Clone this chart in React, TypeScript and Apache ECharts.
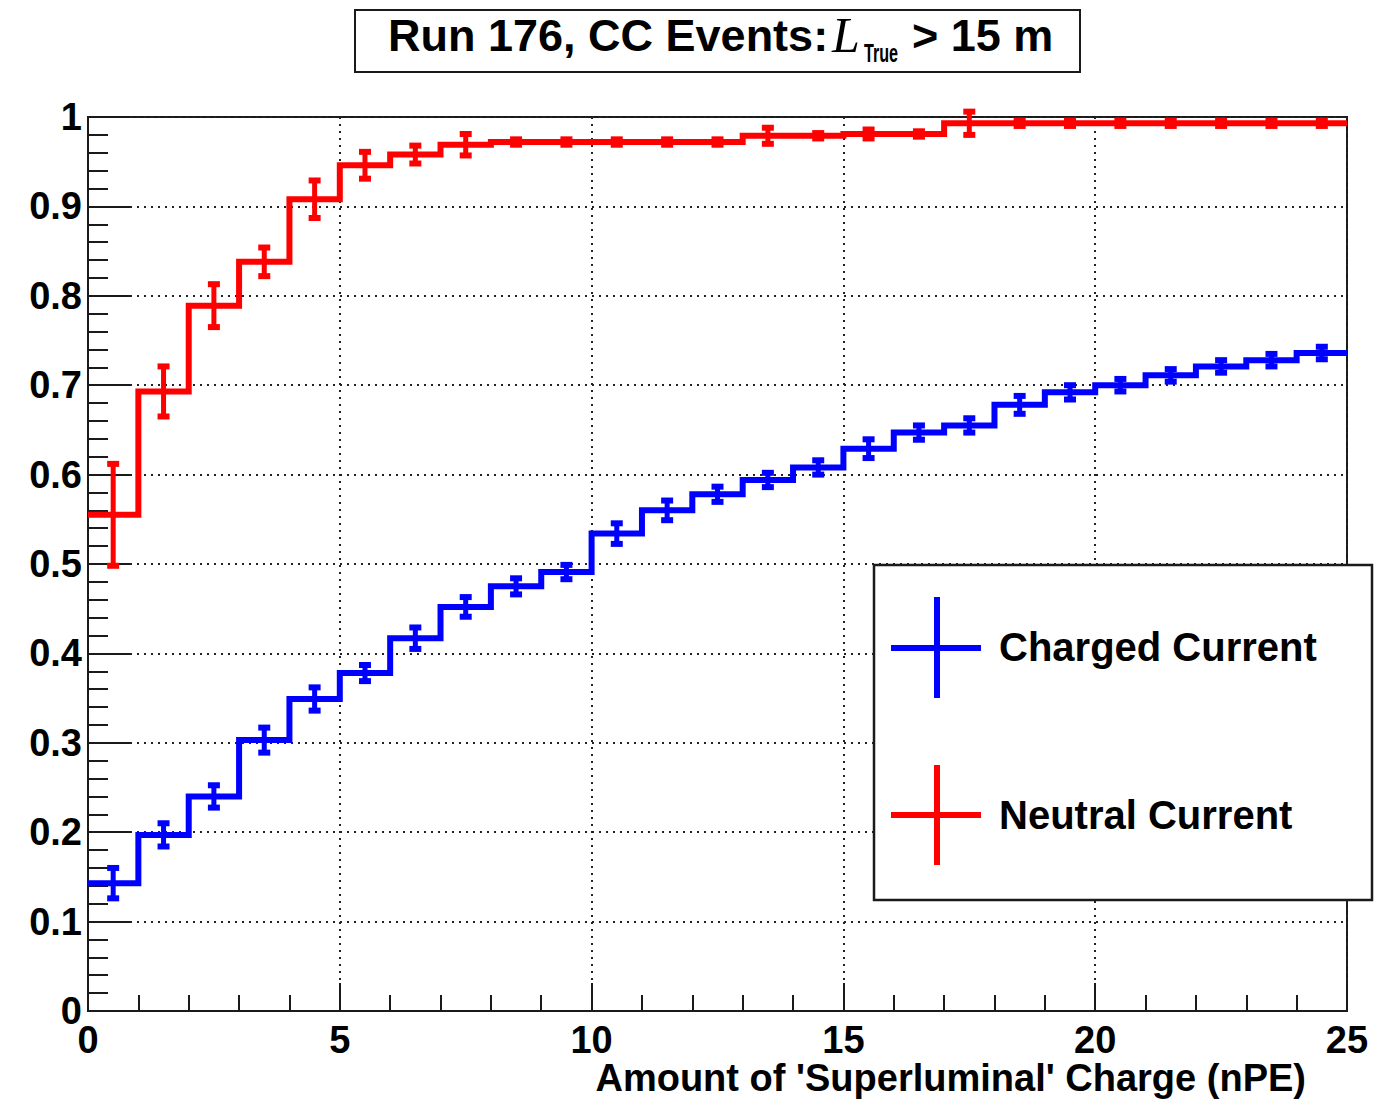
import React, { useEffect, useRef } from "react";
import * as echarts from "echarts";

// Histogram bins: left edges (bin width 1 nPE), 0..24
const binLeftEdges = [0, 1, 2, 3, 4, 5, 6, 7, 8, 9, 10, 11, 12, 13, 14, 15, 16, 17, 18, 19, 20, 21, 22, 23, 24];
const binWidth = 1;

// Charged Current (blue)
const ccValues = [0.143, 0.197, 0.240, 0.303, 0.349, 0.378, 0.417, 0.452, 0.475, 0.491, 0.534, 0.560, 0.578, 0.594, 0.608, 0.629, 0.647, 0.655, 0.678, 0.692, 0.700, 0.711, 0.721, 0.728, 0.736];
const ccErrors = [0.017, 0.013, 0.0125, 0.014, 0.013, 0.009, 0.012, 0.011, 0.009, 0.008, 0.0115, 0.011, 0.0085, 0.008, 0.008, 0.0105, 0.008, 0.008, 0.010, 0.008, 0.007, 0.007, 0.007, 0.007, 0.007];

// Neutral Current (red)
const ncValues = [0.555, 0.693, 0.789, 0.838, 0.908, 0.946, 0.958, 0.969, 0.972, 0.972, 0.972, 0.972, 0.972, 0.979, 0.979, 0.981, 0.981, 0.993, 0.993, 0.993, 0.993, 0.993, 0.993, 0.993, 0.993];
const ncErrors = [0.057, 0.028, 0.024, 0.016, 0.021, 0.015, 0.010, 0.012, 0.003, 0.003, 0.003, 0.003, 0.003, 0.009, 0.003, 0.005, 0.003, 0.013, 0.003, 0.003, 0.003, 0.003, 0.003, 0.003, 0.003];

const xTicks = { min: 0, max: 25, interval: 5 };
const yTicks = { min: 0, max: 1, interval: 0.1 };

const titleParts = { main: "Run 176, CC Events:", sym: "L", sub: "True", tail: "> 15 m" };
const xTitle = "Amount of 'Superluminal' Charge (nPE)";
const legendLabels = ["Charged Current", "Neutral Current"];

const FONT = "'Liberation Sans', Arial, Helvetica, sans-serif";
const BLUE = "#0000ff";
const RED = "#ff0000";
const INK = "#1a1a1a";

function stepData(values: number[]) {
  const pts: number[][] = binLeftEdges.map((e, i) => [e, values[i]]);
  const last = binLeftEdges[binLeftEdges.length - 1] + binWidth;
  pts.push([last, values[values.length - 1]]);
  return pts;
}

function errData(values: number[], errs: number[]) {
  return binLeftEdges.map((e, i) => [e + binWidth / 2, values[i], errs[i]]);
}

function errRender(color: string) {
  return (params: any, api: any) => {
    const x = api.value(0);
    const y = api.value(1);
    const e = api.value(2);
    const top = api.coord([x, y + e]);
    const bot = api.coord([x, y - e]);
    const cw = 6;
    const st = { stroke: color, lineWidth: 5 };
    const capSt = { stroke: color, lineWidth: 6 };
    return {
      type: "group",
      children: [
        { type: "line", shape: { x1: top[0], y1: top[1], x2: bot[0], y2: bot[1] }, style: st },
        { type: "line", shape: { x1: top[0] - cw, y1: top[1], x2: top[0] + cw, y2: top[1] }, style: capSt },
        { type: "line", shape: { x1: bot[0] - cw, y1: bot[1], x2: bot[0] + cw, y2: bot[1] }, style: capSt },
      ],
    };
  };
}

export default function App() {
  const ref = useRef<HTMLDivElement>(null);
  useEffect(() => {
    if (!ref.current) return;
    const chart = echarts.init(ref.current, undefined, { renderer: "svg" });
    const axisLabel = { fontSize: 38, fontWeight: "bold", fontFamily: FONT, color: "#000" };
    const splitLine = { show: true, lineStyle: { type: [2, 5], color: "#222", width: 2 } };
    chart.setOption({
      animation: false,
      backgroundColor: "#fff",
      grid: {
        left: 88, right: 42, top: 117, bottom: 89,
        show: true, borderColor: INK, borderWidth: 2, backgroundColor: "#fff",
        containLabel: false, outerBoundsMode: "none",
      },
      xAxis: {
        type: "value", min: xTicks.min, max: xTicks.max, interval: xTicks.interval,
        axisLine: { show: true, onZero: false, lineStyle: { color: INK, width: 2 } },
        axisTick: { show: true, inside: true, length: 28, lineStyle: { color: INK, width: 2 } },
        minorTick: { show: true, splitNumber: 5, length: 16, lineStyle: { color: INK, width: 2 } },
        axisLabel: { ...axisLabel, margin: 10 },
        splitLine,
      },
      yAxis: {
        type: "value", min: yTicks.min, max: yTicks.max, interval: yTicks.interval,
        axisLine: { show: true, onZero: false, lineStyle: { color: INK, width: 2 } },
        axisTick: { show: true, inside: true, length: 42, lineStyle: { color: INK, width: 2 } },
        minorTick: { show: true, splitNumber: 5, length: 20, lineStyle: { color: INK, width: 2 } },
        axisLabel: { ...axisLabel, margin: 6 },
        splitLine,
      },
      series: [
        {
          type: "line", name: legendLabels[0], data: stepData(ccValues), step: "end",
          symbol: "none", lineStyle: { color: BLUE, width: 6, join: "miter" }, z: 3,
        },
        {
          type: "line", name: legendLabels[1], data: stepData(ncValues), step: "end",
          symbol: "none", lineStyle: { color: RED, width: 6, join: "miter" }, z: 3,
        },
        {
          type: "custom", data: errData(ccValues, ccErrors), renderItem: errRender(BLUE),
          encode: { x: 0, y: 1 }, z: 4, clip: false,
        },
        {
          type: "custom", data: errData(ncValues, ncErrors), renderItem: errRender(RED),
          encode: { x: 0, y: 1 }, z: 4, clip: false,
        },
      ],
      graphic: [
        {
          type: "rect", z: 100, shape: { x: 355, y: 10, width: 725, height: 62 },
          style: { fill: "#fff", stroke: INK, lineWidth: 2 },
        },
        {
          type: "text", z: 101, x: 388, y: 35,
          style: { text: titleParts.main, fontSize: 45, fontWeight: "bold", fontFamily: FONT, fill: "#000", align: "left", verticalAlign: "middle" },
        },
        {
          type: "text", z: 101, x: 832, y: 35,
          style: { text: titleParts.sym, fontSize: 50, fontStyle: "italic", fontFamily: "'Liberation Serif', 'Times New Roman', serif", fill: "#000", align: "left", verticalAlign: "middle" },
        },
        {
          type: "text", z: 101, x: 864, y: 53, scaleX: 0.62,
          style: { text: titleParts.sub, fontSize: 26, fontWeight: "bold", fontFamily: FONT, fill: "#000", align: "left", verticalAlign: "middle" },
        },
        {
          type: "text", z: 101, x: 912, y: 35,
          style: { text: titleParts.tail, fontSize: 45, fontWeight: "bold", fontFamily: FONT, fill: "#000", align: "left", verticalAlign: "middle" },
        },
        {
          type: "text", z: 101, x: 1306, y: 1078,
          style: { text: xTitle, fontSize: 38, fontWeight: "bold", fontFamily: FONT, fill: "#000", align: "right", verticalAlign: "middle" },
        },
        {
          type: "rect", z: 100, shape: { x: 874, y: 565, width: 498, height: 335 },
          style: { fill: "#fff", stroke: INK, lineWidth: 2.5 },
        },
        { type: "line", z: 101, shape: { x1: 891, y1: 648, x2: 981, y2: 648 }, style: { stroke: BLUE, lineWidth: 6 } },
        { type: "line", z: 101, shape: { x1: 937, y1: 597, x2: 937, y2: 698 }, style: { stroke: BLUE, lineWidth: 6 } },
        { type: "line", z: 101, shape: { x1: 891, y1: 815, x2: 981, y2: 815 }, style: { stroke: RED, lineWidth: 6 } },
        { type: "line", z: 101, shape: { x1: 937, y1: 765, x2: 937, y2: 865 }, style: { stroke: RED, lineWidth: 6 } },
        {
          type: "text", z: 101, x: 999, y: 647,
          style: { text: legendLabels[0], fontSize: 40, fontWeight: "bold", fontFamily: FONT, fill: "#000", align: "left", verticalAlign: "middle" },
        },
        {
          type: "text", z: 101, x: 999, y: 815,
          style: { text: legendLabels[1], fontSize: 40, fontWeight: "bold", fontFamily: FONT, fill: "#000", align: "left", verticalAlign: "middle" },
        },
      ],
    });
    return () => chart.dispose();
  }, []);
  return (
    <div
      ref={ref}
      style={{ position: "absolute", left: 0, top: 0, width: 1389, height: 1100, background: "#fff" }}
    />
  );
}
